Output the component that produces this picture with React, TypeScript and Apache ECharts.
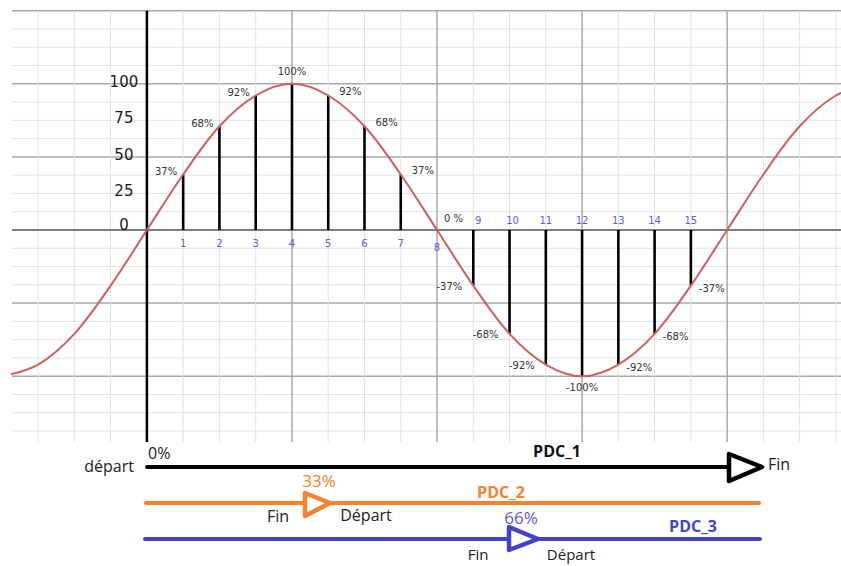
import React, { useEffect, useRef } from "react";
import * as echarts from "echarts";

// ---- data ----
const curveX = [-4, -3, -2, -1, 0, 1, 2, 3, 4, 5, 6, 7, 8, 9, 10, 11, 12, 13, 14, 15, 16, 17, 18, 19, 20];
const curveY = [-100, -92, -71, -38, 0, 38, 71, 92, 100, 92, 71, 38, 0, -38, -71, -92, -100, -92, -71, -38, 0, 38, 71, 92, 100];
const stemX = [1, 2, 3, 4, 5, 6, 7, 8, 9, 10, 11, 12, 13, 14, 15];
const stemY = [38, 71, 92, 100, 92, 71, 38, 0, -38, -71, -92, -100, -92, -71, -38];
const stemLabels = ["37%", "68%", "92%", "100%", "92%", "68%", "37%", "0 %", "-37%", "-68%", "-92%", "-100%", "-92%", "-68%", "-37%"];
const yTickLabels = [0, 25, 50, 75, 100];
const hGridValues = [-137.5, -125, -112.5, -100, -87.5, -75, -62.5, -50, -37.5, -25, -12.5, 12.5, 25, 37.5, 50, 62.5, 75, 87.5, 100, 112.5, 125, 137.5, 150];
const vGridValues = [-3, -2, -1, 1, 2, 3, 4, 5, 6, 7, 8, 9, 10, 11, 12, 13, 14, 15, 16, 17, 18, 19];

const X_MIN = -3.72;
const X_MAX = 19.14;
const Y_MIN = -145;
const Y_MAX = 150;

const ORANGE = "#f7812d";
const BLUE = "#4343c9";
const TICK_BLUE = "#5c5ce0";

export default function App() {
  const ref = useRef<HTMLDivElement>(null);

  useEffect(() => {
    if (!ref.current) return;
    const chart = echarts.init(ref.current, undefined, { renderer: "svg" });

    const gridData = [
      ...hGridValues.map((v) => [0, v]),
      ...vGridValues.map((v) => [1, v]),
    ];

    const option: any = {
      animation: false,
      backgroundColor: "#ffffff",
      grid: { left: 12, right: 0, top: 10.7, bottom: 124 },
      xAxis: { type: "value", min: X_MIN, max: X_MAX, show: false },
      yAxis: { type: "value", min: Y_MIN, max: Y_MAX, show: false },
      series: [
        {
          type: "custom",
          z: 1,
          silent: true,
          data: gridData,
          renderItem: (params: any, api: any) => {
            const kind = api.value(0);
            const v = api.value(1);
            if (kind === 0) {
              const a = api.coord([X_MIN, v]);
              const b = api.coord([X_MAX, v]);
              const major = v % 50 === 0;
              return {
                type: "line",
                shape: { x1: a[0], y1: a[1], x2: b[0], y2: b[1] },
                style: { stroke: major ? "#a9a9a9" : "#e2e2e2", lineWidth: major ? 1.5 : 1 },
              };
            }
            const a = api.coord([v, Y_MIN]);
            const b = api.coord([v, Y_MAX]);
            const major = v % 4 === 0;
            return {
              type: "line",
              shape: { x1: a[0], y1: a[1], x2: b[0], y2: b[1] },
              style: { stroke: major ? "#a9a9a9" : "#e2e2e2", lineWidth: major ? 1.5 : 1 },
            };
          },
        },
        {
          // axes lines
          type: "custom",
          z: 2,
          silent: true,
          data: [[0], [1]],
          renderItem: (params: any, api: any) => {
            const k = api.value(0);
            if (k === 0) {
              const a = api.coord([X_MIN, 0]);
              const b = api.coord([X_MAX, 0]);
              return {
                type: "line",
                shape: { x1: a[0], y1: a[1], x2: b[0], y2: b[1] },
                style: { stroke: "#7c7c7c", lineWidth: 2 },
              };
            }
            const a = api.coord([0, Y_MIN]);
            const b = api.coord([0, Y_MAX]);
            return {
              type: "line",
              shape: { x1: a[0], y1: a[1], x2: b[0], y2: b[1] },
              style: { stroke: "#000000", lineWidth: 2.5 },
            };
          },
        },
        {
          type: "line",
          z: 4,
          data: curveX.map((x, i) => [x, curveY[i]]),
          smooth: 0.35,
          showSymbol: false,
          symbol: "none",
          lineStyle: { color: "#d0605c", width: 2 },
          silent: true,
        },
        {
          // stems
          type: "custom",
          z: 3,
          silent: true,
          data: stemX.map((x, i) => [x, stemY[i]]),
          renderItem: (params: any, api: any) => {
            const a = api.coord([api.value(0), 0]);
            const b = api.coord([api.value(0), api.value(1)]);
            return {
              type: "line",
              shape: { x1: a[0], y1: a[1], x2: b[0], y2: b[1] },
              style: { stroke: "#000000", lineWidth: 2.6 },
            };
          },
        },
        {
          // stem value labels
          type: "custom",
          z: 6,
          silent: true,
          data: stemX.map((x, i) => [x, stemY[i], i]),
          renderItem: (params: any, api: any) => {
            const x = api.value(0);
            const y = api.value(1);
            const i = api.value(2);
            const p = api.coord([x, y]);
            const phase = x % 8;
            let tx = p[0];
            let ty = p[1];
            let align = "center";
            if (y > 0) {
              if (phase < 4) { tx -= 6; ty -= 3; align = "right"; }
              else if (phase === 4) { ty -= 12; }
              else { tx += 11; ty -= 4; align = "left"; }
            } else if (y === 0) {
              tx += 7; ty -= 12; align = "left";
            } else {
              if (phase < 4) { tx -= 11; ty += 1; align = "right"; }
              else if (phase === 4) { ty += 11; }
              else { tx += 8; ty += 3; align = "left"; }
            }
            return {
              type: "text",
              x: tx,
              y: ty,
              style: {
                text: stemLabels[i],
                fill: "#333333",
                fontSize: 10,
                fontFamily: "DejaVu Sans",
                align,
                verticalAlign: "middle",
              },
            };
          },
        },
        {
          // x tick labels
          type: "custom",
          z: 6,
          silent: true,
          data: stemX.map((x) => [x]),
          renderItem: (params: any, api: any) => {
            const x = api.value(0);
            const p = api.coord([x, 0]);
            const below = x <= 8;
            return {
              type: "text",
              x: p[0] + (x === 9 ? 5 : x === 10 ? 3 : 0),
              y: below ? p[1] + (x === 8 ? 17 : 13) : p[1] - 10,
              style: {
                text: String(x),
                fill: TICK_BLUE,
                fontSize: 10,
                fontFamily: "DejaVu Sans",
                align: "center",
                verticalAlign: "middle",
              },
            };
          },
        },
        {
          // y tick labels
          type: "custom",
          z: 6,
          silent: true,
          data: yTickLabels.map((v) => [v]),
          renderItem: (params: any, api: any) => {
            const v = api.value(0);
            const p = api.coord([0, v]);
            return {
              type: "text",
              x: p[0] - 23,
              y: p[1] - (v === 0 ? 5 : 2),
              style: {
                text: String(v),
                fill: "#1a1a1a",
                fontSize: 15,
                fontFamily: "DejaVu Sans",
                align: "center",
                verticalAlign: "middle",
              },
            };
          },
        },
      ],
      graphic: [
        // PDC_1
        { type: "line", shape: { x1: 147, y1: 467, x2: 730, y2: 467 }, style: { stroke: "#000", lineWidth: 4, lineCap: "round" }, z: 10 },
        { type: "polygon", shape: { points: [[729, 454], [762, 467], [729, 481]] }, style: { fill: "#fff", stroke: "#000", lineWidth: 4.5, lineJoin: "round" }, z: 11 },
        { type: "text", x: 134, y: 466, style: { text: "départ", fill: "#222", fontSize: 16, fontFamily: "Open Sans", align: "right", verticalAlign: "middle" }, z: 12 },
        { type: "text", x: 148, y: 453, style: { text: "0%", fill: "#222", fontSize: 16, fontFamily: "Open Sans", align: "left", verticalAlign: "middle" }, z: 12 },
        { type: "text", x: 557, y: 451, style: { text: "PDC_1", fill: "#111", fontSize: 16, fontWeight: "bold", fontFamily: "Open Sans", align: "center", verticalAlign: "middle" }, z: 12 },
        { type: "text", x: 768, y: 464, style: { text: "Fin", fill: "#222", fontSize: 16, fontFamily: "Open Sans", align: "left", verticalAlign: "middle" }, z: 12 },
        // PDC_2
        { type: "line", shape: { x1: 146, y1: 503, x2: 759, y2: 503 }, style: { stroke: ORANGE, lineWidth: 4, lineCap: "round" }, z: 10 },
        { type: "polygon", shape: { points: [[305, 493], [330, 503], [305, 516]] }, style: { fill: "#fff", stroke: ORANGE, lineWidth: 4.5, lineJoin: "round" }, z: 11 },
        { type: "text", x: 319, y: 480, style: { text: "33%", fill: ORANGE, fontSize: 17, fontFamily: "Open Sans", align: "center", verticalAlign: "middle" }, z: 12 },
        { type: "text", x: 278, y: 516, style: { text: "Fin", fill: "#222", fontSize: 16, fontFamily: "Open Sans", align: "center", verticalAlign: "middle" }, z: 12 },
        { type: "text", x: 366, y: 515, style: { text: "Départ", fill: "#222", fontSize: 16, fontFamily: "Open Sans", align: "center", verticalAlign: "middle" }, z: 12 },
        { type: "text", x: 501, y: 492, style: { text: "PDC_2", fill: ORANGE, fontSize: 16, fontWeight: "bold", fontFamily: "Open Sans", align: "center", verticalAlign: "middle" }, z: 12 },
        // PDC_3
        { type: "line", shape: { x1: 145, y1: 539, x2: 760, y2: 539 }, style: { stroke: BLUE, lineWidth: 4, lineCap: "round" }, z: 10 },
        { type: "polygon", shape: { points: [[509, 527], [538, 539], [509, 550]] }, style: { fill: "#fff", stroke: BLUE, lineWidth: 4.5, lineJoin: "round" }, z: 11 },
        { type: "text", x: 521, y: 517, style: { text: "66%", fill: "#5a5ad6", fontSize: 17, fontFamily: "Open Sans", align: "center", verticalAlign: "middle" }, z: 12 },
        { type: "text", x: 478, y: 554, style: { text: "Fin", fill: "#222", fontSize: 15, fontFamily: "Open Sans", align: "center", verticalAlign: "middle" }, z: 12 },
        { type: "text", x: 571, y: 554, style: { text: "Départ", fill: "#222", fontSize: 15, fontFamily: "Open Sans", align: "center", verticalAlign: "middle" }, z: 12 },
        { type: "text", x: 693, y: 526, style: { text: "PDC_3", fill: BLUE, fontSize: 16, fontWeight: "bold", fontFamily: "Open Sans", align: "center", verticalAlign: "middle" }, z: 12 },
      ],
    };

    chart.setOption(option);
    return () => chart.dispose();
  }, []);

  return (
    <div
      ref={ref}
      style={{ position: "absolute", left: 0, top: 0, width: 841, height: 566 }}
    />
  );
}
